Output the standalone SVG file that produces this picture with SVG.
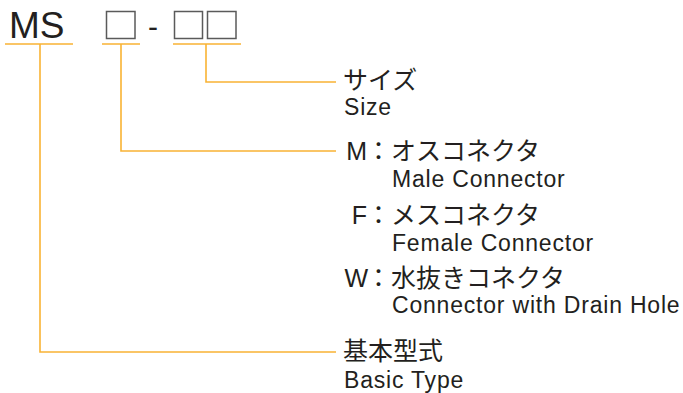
<svg xmlns="http://www.w3.org/2000/svg" width="683" height="393" viewBox="0 0 683 393">
<style>
.ln{fill:none;stroke:#F9B334;stroke-width:1.6}
.bx{fill:none;stroke:#5a5a5a;stroke-width:1.5}
.t{font-family:"Liberation Sans","Noto Sans CJK JP",sans-serif;fill:#231f20}
.jp{font-size:25px}
.en{font-size:23px;letter-spacing:0.8px}
</style>
<rect width="683" height="393" fill="#fff"/>
<g id="code">
<text class="t" x="9" y="38" font-size="37">MS</text>
<rect class="bx" x="106.5" y="11.5" width="28.5" height="27"/>
<text class="t" x="148" y="37" font-size="30">-</text>
<rect class="bx" x="174.5" y="11.5" width="28" height="27"/>
<rect class="bx" x="207.5" y="11.5" width="28.5" height="27"/>
</g>
<g id="connectors">
<path class="ln" d="M5 44H73M102 44H140M173 44H241"/>
<path class="ln" d="M206 44V82H336"/>
<path class="ln" d="M121 44V151H336"/>
<path class="ln" d="M40 44V352H336"/>
</g>
<g id="size">
<text class="t jp" x="343" y="89">サイズ</text>
<text class="t en" x="344" y="115">Size</text>
</g>
<g id="male">
<text class="t jp" x="367" y="160" text-anchor="end">M</text>
<text class="t jp" x="366" y="160">：オスコネクタ</text>
<text class="t en" x="392" y="187">Male Connector</text>
</g>
<g id="female">
<text class="t jp" x="367" y="224" text-anchor="end">F</text>
<text class="t jp" x="366" y="224">：メスコネクタ</text>
<text class="t en" x="392" y="251">Female Connector</text>
</g>
<g id="drain">
<text class="t jp" x="368" y="287" text-anchor="end">W</text>
<text class="t jp" x="366" y="287">：水抜きコネクタ</text>
<text class="t en" x="392" y="313">Connector with Drain Hole</text>
</g>
<g id="basic">
<text class="t jp" x="343" y="360">基本型式</text>
<text class="t en" x="344" y="388">Basic Type</text>
</g>
</svg>
